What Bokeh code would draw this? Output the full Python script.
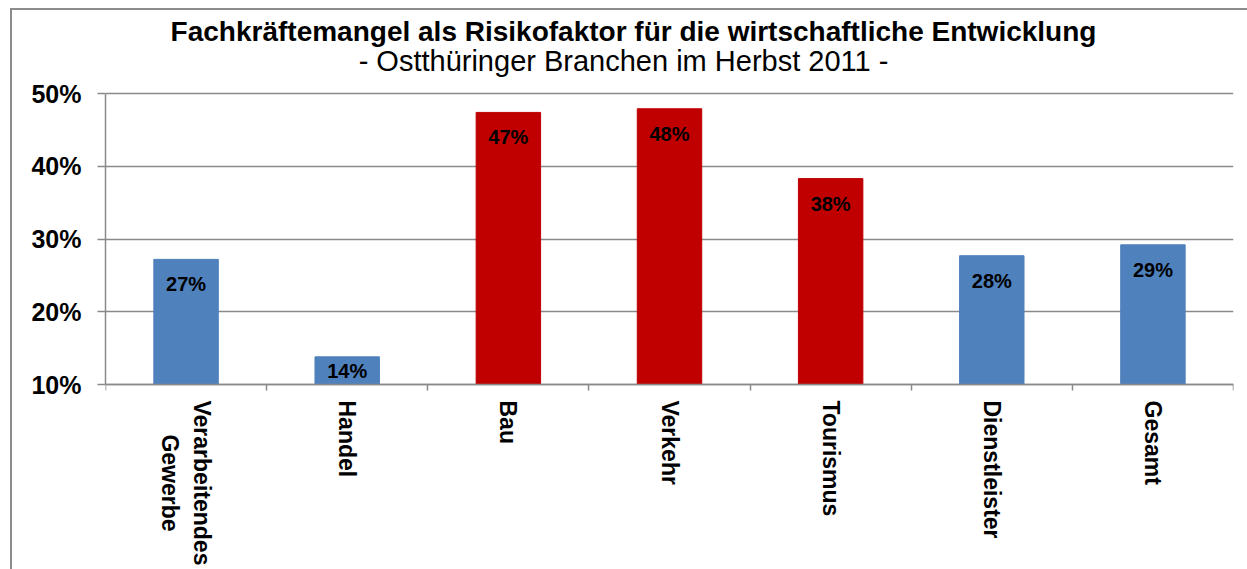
import math
from bokeh.plotting import figure
from bokeh.models import (ColumnDataSource, Range1d, FixedTicker, PrintfTickFormatter, Label, LabelSet,
                          LinearAxis, Grid)
from bokeh.core.properties import value
from bokeh.embed import file_html
from bokeh.resources import INLINE

# ---- data ----
categories = ["Verarbeitendes\nGewerbe", "Handel", "Bau", "Verkehr", "Tourismus", "Dienstleister", "Gesamt"]
values = [27.2, 13.8, 47.4, 47.9, 38.3, 27.7, 29.2]
value_labels = ["27%", "14%", "47%", "48%", "38%", "28%", "29%"]
highlight = [False, False, True, True, True, False, False]
y_ticks = [10, 20, 30, 40, 50]
title_text = "Fachkräftemangel als Risikofaktor für die wirtschaftliche Entwicklung"
subtitle_text = "- Ostthüringer Branchen im Herbst 2011 -"

BLUE = "#4F81BD"
RED = "#C00000"
GRID = "#8A8A8A"
FONT = "Liberation Sans"

# ---- layout (page pixels) ----
BOX_X, BOX_Y, BOX_W = 10, 8, 2          # outer chart box
FIG_X, FIG_Y = BOX_X + BOX_W, BOX_Y + BOX_W
PLOT_L, PLOT_R = 105, 1233              # x extent of categories
PLOT_TOP, PLOT_BASE = 93, 384           # pixel rows of 50% and 10%
PAGE_W, PAGE_H = 1247, 569

y_lo, y_hi = y_ticks[0], y_ticks[-1]
ppu = (PLOT_BASE - PLOT_TOP) / (y_hi - y_lo)
ncat = len(categories)
ppx = (PLOT_R - PLOT_L) / ncat

frame_w = PLOT_R - PLOT_L
frame_h = PAGE_H - FIG_Y
y_start = y_lo - (PAGE_H - PLOT_BASE) / ppu
y_end = y_hi + (PLOT_TOP - FIG_Y) / ppu

def px_x(px):
    return (px - PLOT_L) / ppx

def px_y(py):
    return y_lo + (PLOT_BASE - py) / ppu

xs = [i + 0.5 for i in range(ncat)]
colors = [RED if h else BLUE for h in highlight]
label_y = [max(v - 25 / ppu, (v + y_lo) / 2) for v in values]

src = ColumnDataSource(dict(x=xs, top=values, color=colors, lab=value_labels, ly=label_y))

p = figure(
    frame_width=frame_w, frame_height=frame_h,
    min_border_left=PLOT_L - FIG_X, min_border_right=PAGE_W - PLOT_R, min_border_top=0, min_border_bottom=0,
    x_range=Range1d(0, ncat), y_range=Range1d(y_start, y_end),
    x_axis_location=None, y_axis_location=None,
    output_backend="svg", toolbar_location=None, tools="",
)
for g in p.grid:
    g.visible = False
p.outline_line_color = None
p.background_fill_color = "white"
p.border_fill_color = "white"
p.styles = {
    "border-left": f"{BOX_W}px solid #8C8C8C", "border-top": f"{BOX_W}px solid #8C8C8C",
    "margin-left": f"{BOX_X}px", "margin-top": f"{BOX_Y}px",
}

p.vbar(x="x", top="top", bottom=y_lo, width=0.4, fill_color="color", line_color="color", source=src)

# y axis (left panel, bounded to 10..50)
yaxis = LinearAxis(ticker=FixedTicker(ticks=y_ticks), formatter=PrintfTickFormatter(format="%d%%"),
                   bounds=(y_lo, y_hi))
yaxis.major_label_text_font = FONT
yaxis.major_label_text_font_style = "bold"
yaxis.major_label_text_font_size = "25px"
yaxis.major_label_text_color = "black"
yaxis.major_label_standoff = 16
yaxis.major_tick_out = 8
yaxis.major_tick_in = 0
yaxis.minor_tick_line_color = None
yaxis.axis_line_color = GRID
yaxis.axis_line_width = 1.5
yaxis.major_tick_line_color = GRID
yaxis.major_tick_line_width = 1.5
p.add_layout(yaxis, "left")

# horizontal grid lines
p.add_layout(Grid(dimension=1, ticker=FixedTicker(ticks=y_ticks), grid_line_color=GRID, grid_line_width=1.5))

# x axis fixed at the 10% baseline, ticks at category boundaries
xaxis = LinearAxis(ticker=FixedTicker(ticks=list(range(ncat + 1))), fixed_location=y_lo,
                   major_label_overrides={i: "" for i in range(ncat + 1)})
xaxis.major_tick_out = 6
xaxis.major_tick_in = 0
xaxis.minor_tick_line_color = None
xaxis.axis_line_color = GRID
xaxis.axis_line_width = 1.5
xaxis.major_tick_line_color = GRID
xaxis.major_tick_line_width = 1.5
p.add_layout(xaxis, "below")

# value labels
p.add_layout(LabelSet(x="x", y="ly", text="lab", source=src, text_align="center", text_baseline="middle",
                      text_font=value(FONT), text_font_style="bold", text_font_size="20px", text_color="black"))

# category labels (rotated, reading top to bottom)
for x, c in zip(xs, categories):
    p.add_layout(Label(x=x, y=y_lo, y_offset=-16, text=c, angle=-math.pi / 2, text_align="center",
                       anchor="center_left", text_font=FONT, text_font_style="bold",
                       text_font_size="23px", text_color="black"))

# titles
p.add_layout(Label(x=px_x(633), y=px_y(31), text=title_text, text_align="center", text_baseline="middle",
                   text_font=FONT, text_font_style="bold", text_font_size="28px", text_color="black"))
p.add_layout(Label(x=px_x(623), y=px_y(60), text=subtitle_text, text_align="center", text_baseline="middle",
                   text_font=FONT, text_font_size="29px", text_color="black"))

open("out.html", "w").write(file_html(p, INLINE))
